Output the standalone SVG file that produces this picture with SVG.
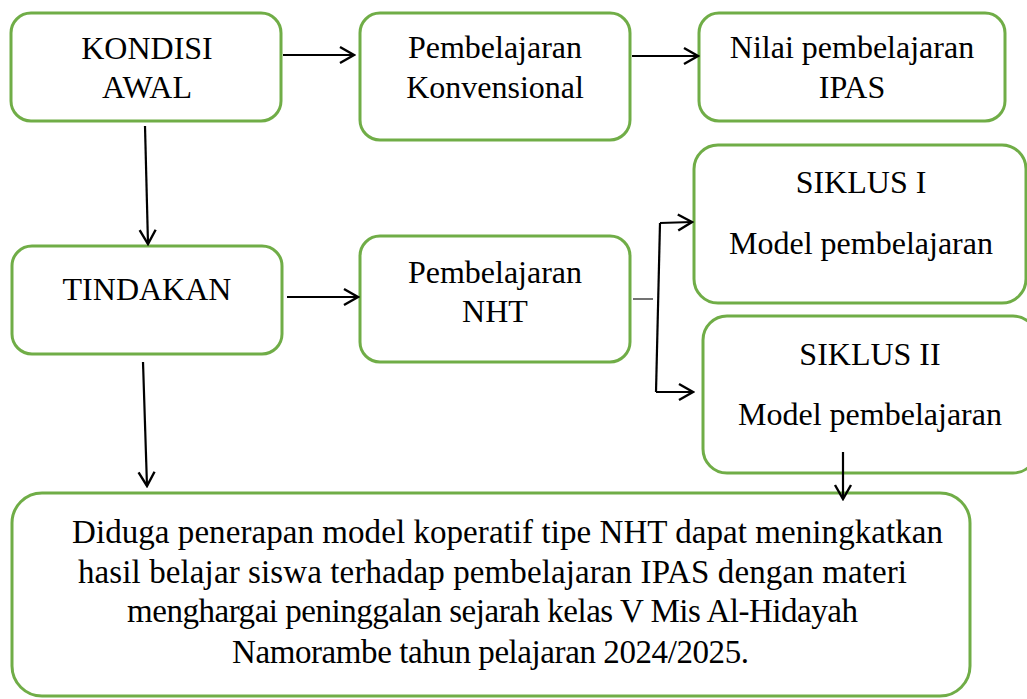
<svg xmlns="http://www.w3.org/2000/svg" width="1027" height="699" viewBox="0 0 1027 699">
<defs>
<marker id="ah" viewBox="0 0 20 20" refX="18" refY="10" markerWidth="20" markerHeight="20" markerUnits="userSpaceOnUse" orient="auto">
<path d="M4,2 L18,10 L4,18" fill="none" stroke="#000" stroke-width="2.4"/>
</marker>
</defs>
<style>
.box{fill:#fff;stroke:#70AD47;stroke-width:3}
.t{font-size:32px;fill:#000;text-anchor:middle}
.b{font-size:33px}
.c{fill:none;stroke:#000;stroke-width:2.2}
</style>
<rect width="1027" height="699" fill="#fff"/>
<g font-family="'Liberation Serif', 'Times New Roman', serif">
<g id="kondisi"><rect class="box" x="11" y="13" width="270" height="108" rx="20"/><text class="t" x="147" y="59">KONDISI</text><text class="t" x="147" y="98">AWAL</text></g>
<g id="konvensional"><rect class="box" x="360" y="13" width="270" height="127" rx="20"/><text class="t" x="495" y="58">Pembelajaran</text><text class="t" x="495" y="98">Konvensional</text></g>
<g id="nilai"><rect class="box" x="699" y="13" width="306" height="108" rx="20"/><text class="t" x="852" y="58">Nilai pembelajaran</text><text class="t" x="852" y="98">IPAS</text></g>
<g id="tindakan"><rect class="box" x="12" y="246" width="270" height="108" rx="20"/><text class="t" x="147" y="300">TINDAKAN</text></g>
<g id="nht"><rect class="box" x="360" y="236" width="270" height="126" rx="20"/><text class="t" x="495" y="283">Pembelajaran</text><text class="t" x="495" y="322">NHT</text></g>
<g id="siklus1"><rect class="box" x="694" y="145" width="332" height="158" rx="24"/><text class="t" x="861" y="193">SIKLUS I</text><text class="t" x="861" y="254">Model pembelajaran</text></g>
<g id="siklus2"><rect class="box" x="703" y="316" width="334" height="157" rx="24"/><text class="t" x="870" y="365">SIKLUS II</text><text class="t" x="870" y="425">Model pembelajaran</text></g>
<g id="hipotesis"><rect class="box" x="12" y="493" width="958" height="203" rx="30"/>
<text class="t b" x="507.5" y="543" textLength="871">Diduga penerapan model koperatif tipe NHT dapat meningkatkan</text>
<text class="t b" x="492.5" y="583" textLength="829">hasil belajar siswa terhadap pembelajaran IPAS dengan materi</text>
<text class="t b" x="492.5" y="622" textLength="731">menghargai peninggalan sejarah kelas V Mis Al-Hidayah</text>
<text class="t b" x="490.5" y="663" textLength="517">Namorambe tahun pelajaran 2024/2025.</text>
</g>
</g>
<g id="connectors">
<line class="c" x1="283" y1="55" x2="354" y2="55" marker-end="url(#ah)"/>
<line class="c" x1="632" y1="56" x2="698" y2="56" marker-end="url(#ah)"/>
<line class="c" x1="145" y1="126" x2="148" y2="244" marker-end="url(#ah)"/>
<line class="c" x1="287" y1="297" x2="358" y2="297" marker-end="url(#ah)"/>
<line class="c" x1="143" y1="362" x2="147" y2="486" marker-end="url(#ah)"/>
<line x1="633" y1="299" x2="653" y2="299" stroke="#444" stroke-width="1.5"/>
<line class="c" x1="660" y1="223" x2="656" y2="392"/>
<line class="c" x1="660" y1="223" x2="692" y2="222" marker-end="url(#ah)"/>
<line class="c" x1="656" y1="392" x2="693" y2="392" marker-end="url(#ah)"/>
<line class="c" x1="843" y1="452" x2="843" y2="499" marker-end="url(#ah)"/>
</g>
</svg>
